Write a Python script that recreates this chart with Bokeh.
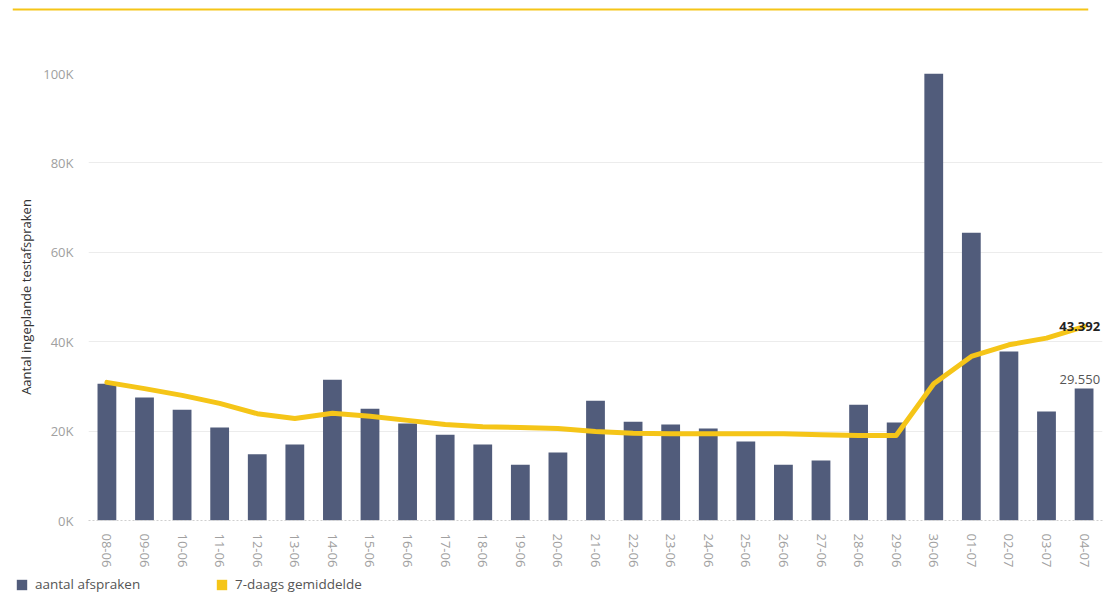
from bokeh.plotting import figure
from bokeh.layouts import column, row
from bokeh.models import (Range1d, FixedTicker, Span, Legend, LegendItem,
                          ColumnDataSource, Label)
from bokeh.embed import file_html
from bokeh.resources import INLINE

dates = ["08-06", "09-06", "10-06", "11-06", "12-06", "13-06", "14-06", "15-06",
         "16-06", "17-06", "18-06", "19-06", "20-06", "21-06", "22-06", "23-06",
         "24-06", "25-06", "26-06", "27-06", "28-06", "29-06", "30-06", "01-07",
         "02-07", "03-07", "04-07"]
afspraken = [30600, 27500, 24800, 20800, 14800, 17000, 31500, 25000, 21700, 19200,
             17000, 12500, 15200, 26800, 22100, 21500, 20600, 17700, 12500, 13400,
             25900, 21900, 100000, 64400, 37800, 24400, 29550]
gemiddelde = [30900, 29500, 28000, 26200, 23900, 22800, 24000, 23300, 22400, 21500,
              21000, 20800, 20600, 19900, 19500, 19400, 19400, 19400, 19400, 19200,
              19000, 19000, 30600, 36700, 39300, 40800, 43392]
y_ticks = [0, 20000, 40000, 60000, 80000, 100000]
series_names = ["aantal afspraken", "7-daags gemiddelde"]

FONT = "Open Sans"
BAR = "#515c7b"
YEL = "#f5c518"
W = 1104

n = len(dates)
xs = list(range(n))
src = ColumnDataSource(dict(x=xs, d=dates, a=afspraken, g=gemiddelde))

# decorative top rule
top = figure(width=W, height=18, x_range=Range1d(0, 1), y_range=Range1d(0, 1),
             output_backend="svg", toolbar_location=None,
             min_border_left=12, min_border_right=16, min_border_top=0, min_border_bottom=0)
top.axis.visible = False
top.grid.visible = False
top.outline_line_color = None
top.add_layout(Span(location=0.5, dimension="width", line_color=YEL, line_width=2))

p = figure(width=W, height=557, x_range=Range1d(-0.49, 26.49),
           y_range=Range1d(0, 100000), output_backend="svg", toolbar_location=None,
           min_border_left=88, min_border_right=2, min_border_top=55, min_border_bottom=55)
p.outline_line_color = None

bars = p.vbar(x="x", top="a", width=0.5, source=src, fill_color=BAR, line_color=None)
line = p.line(x="x", y="g", source=src, line_color=YEL, line_width=5,
              line_join="round", line_cap="round")

p.xgrid.grid_line_color = None
p.ygrid.grid_line_color = "#ececec"
p.ygrid.ticker = FixedTicker(ticks=y_ticks[1:])

p.yaxis.ticker = FixedTicker(ticks=y_ticks)
p.yaxis.major_label_overrides = {v: f"{v // 1000}K" for v in y_ticks}
p.yaxis.axis_line_color = None
p.yaxis.major_tick_line_color = None
p.yaxis.minor_tick_line_color = None
p.yaxis.major_label_standoff = 9
p.yaxis.major_label_text_font = FONT
p.yaxis.major_label_text_font_size = "13px"
p.yaxis.major_label_text_color = "#a0a0a0"
p.yaxis.axis_label = "Aantal ingeplande testafspraken"
p.yaxis.axis_label_text_font = FONT
p.yaxis.axis_label_text_font_size = "13px"
p.yaxis.axis_label_text_font_style = "normal"
p.yaxis.axis_label_text_color = "#333333"
p.yaxis.axis_label_standoff = 5

p.xaxis.ticker = FixedTicker(ticks=xs)
p.xaxis.major_label_overrides = {i: d for i, d in zip(xs, dates)}
p.xaxis.major_label_orientation = "vertical"
p.xaxis.axis_line_color = "#cfcfcf"
p.xaxis.axis_line_dash = "2 2"
p.xaxis.major_tick_line_color = None
p.xaxis.minor_tick_line_color = None
p.xaxis.major_label_standoff = 7
p.xaxis.major_label_text_font = FONT
p.xaxis.major_label_text_font_size = "13px"
p.xaxis.major_label_text_color = "#a0a0a0"

def nl(v):
    return f"{v:,}".replace(",", ".")

p.add_layout(Label(x=xs[-1], y=gemiddelde[-1], text=nl(gemiddelde[-1]),
                   text_align="right", text_baseline="middle", x_offset=16,
                   text_font=FONT, text_font_size="13px", text_color="#222222",
                   text_font_style="bold"))
p.add_layout(Label(x=xs[-1], y=afspraken[-1], text=nl(afspraken[-1]),
                   text_align="right", text_baseline="bottom", x_offset=16, y_offset=4,
                   text_font=FONT, text_font_size="13px", text_color="#555555"))

# legend strip
leg = figure(width=W, height=22, x_range=Range1d(0, 1), y_range=Range1d(0, 1),
             output_backend="svg", toolbar_location=None,
             min_border_left=0, min_border_right=0, min_border_top=0, min_border_bottom=0)
leg.axis.visible = False
leg.grid.visible = False
leg.outline_line_color = None
r1 = leg.vbar(x=[-5], top=[0], width=0.01, fill_color=BAR, line_color=None)
r2 = leg.vbar(x=[-5], top=[0], width=0.01, fill_color=YEL, line_color=None)
legend = Legend(items=[LegendItem(label=series_names[0], renderers=[r1]),
                       LegendItem(label=series_names[1], renderers=[r2])],
                orientation="horizontal", location=(15, 4),
                glyph_width=13, glyph_height=13, label_standoff=7, label_width=180,
                spacing=0, padding=0, margin=0, border_line_color=None,
                background_fill_alpha=0, label_text_font=FONT,
                label_text_font_size="13.5px", label_text_color="#555555")
leg.add_layout(legend, "center")

layout = column(row(top), p, row(leg), spacing=0)
open("out.html", "w").write(file_html(layout, INLINE))
